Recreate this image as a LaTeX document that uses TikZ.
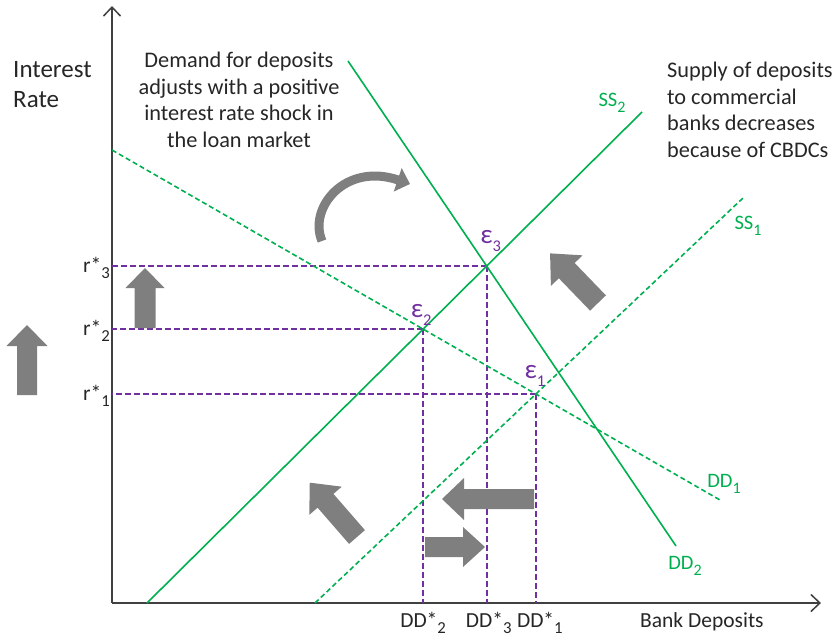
\documentclass[tikz,border=0pt]{standalone}
\usepackage{fontspec}
\setmainfont{Carlito}
\usetikzlibrary{arrows.meta,intersections,calc}

\definecolor{curvegreen}{HTML}{00B050}
\definecolor{eqpurple}{HTML}{7030A0}
\definecolor{axisgray}{HTML}{404040}
\definecolor{shiftgray}{HTML}{7F7F7F}
\definecolor{txt}{HTML}{262626}

% lowered index, a little larger than \textsubscript
\newcommand\lowidx[1]{\lower0.28em\hbox{\scalebox{0.78}{#1}}}

% block arrow: tail point, direction, length, shaft half width, head half width, head length
\newcommand\blockarrow[6]{%
  \fill[shiftfill, shift={(#1)}, rotate=#2]
    (0,-#4) -- ({#3-#6},-#4) -- ({#3-#6},-#5) -- (#3,0) -- ({#3-#6},#5) -- ({#3-#6},#4) -- (0,#4) -- cycle;}

\begin{document}
\begin{tikzpicture}[x=1pt,y=-1pt,
  axisline/.style={draw=axisgray,line width=1.8pt,-{Straight Barb[length=9pt,width=17pt,line width=1.5pt]}},
  curve/.style={draw=curvegreen,line width=1.6pt},
  dcurve/.style={curve,dash pattern=on 5pt off 3pt},
  guide/.style={draw=eqpurple,line width=1.7pt,dash pattern=on 6pt off 3pt},
  curvelbl/.style={text=curvegreen,font=\fontsize{20.5}{22}\selectfont},
  eqlbl/.style={text=eqpurple,font=\fontsize{27}{28}\selectfont},
  ticklbl/.style={text=txt,font=\fontsize{21.5}{24}\selectfont,inner sep=1pt},
  note/.style={text=txt,font=\fontsize{22.3}{26.5}\selectfont,inner sep=0pt},
  shiftfill/.style={fill=shiftgray}]

\path[use as bounding box] (0,0) rectangle (835,640);

% axes
\coordinate (O) at (112,603);
\coordinate (ytop) at (112,6);
\coordinate (xend) at (821,603);
\draw[axisline] (O) -- (ytop);
\draw[axisline] (O) -- (xend);

\node[note,font=\fontsize{25}{30.5}\selectfont,align=left,anchor=north west] (ylabel) at (13,61) {Interest\\Rate};
\node[ticklbl,anchor=north west] (xlabel) at (639,611) {Bank Deposits};

% demand and supply curves
\path[name path=dd1] (112,150) coordinate (dd1a) -- (720,500) coordinate (dd1b);
\path[name path=dd2] (348,61) coordinate (dd2a) -- (676,546) coordinate (dd2b);
\path[name path=ss2] (147,603) coordinate (ss2a) -- (642,112) coordinate (ss2b);
\path[name path=ss1] (315,603) coordinate (ss1a) -- (743,198) coordinate (ss1b);

\path[name intersections={of=dd1 and ss1,by=E1}];
\path[name intersections={of=dd1 and ss2,by=E2}];
\path[name intersections={of=dd2 and ss2,by=E3}];

% equilibrium guides
\draw[guide] (E3) -- (E3 -| O);
\draw[guide] (E2) -- (E2 -| O);
\draw[guide] (E1) -- (E1 -| O);
\draw[guide] (E3) -- (E3 |- O);
\draw[guide] (E2) -- (E2 |- O);
\draw[guide] (E1) -- (E1 |- O);

\draw[dcurve] (dd1a) -- (dd1b);
\draw[curve] (dd2a) -- (dd2b);
\draw[curve] (ss2a) -- (ss2b);
\draw[dcurve] (ss1a) -- (ss1b);

\node[curvelbl] (dd1lbl) at (724,484) {DD\lowidx{1}};
\node[curvelbl] (dd2lbl) at (685,566) {DD\lowidx{2}};
\node[curvelbl] (ss2lbl) at (612,103) {SS\lowidx{2}};
\node[curvelbl] (ss1lbl) at (748,226) {SS\lowidx{1}};

\node[eqlbl] (e3lbl) at ($(E3)+(4,-25)$) {ε\lowidx{\fontsize{21}{22}\selectfont 3}};
\node[eqlbl] (e2lbl) at ($(E2)+(-2,-14)$) {ε\lowidx{\fontsize{21}{22}\selectfont 2}};
\node[eqlbl] (e1lbl) at ($(E1)+(-1,-18)$) {ε\lowidx{\fontsize{21}{22}\selectfont 1}};

% rate and quantity labels
\node[ticklbl,anchor=east] (r3) at ($(E3 -| O)+(-1,2)$) {r*\lowidx{3}};
\node[ticklbl,anchor=east] (r2) at ($(E2 -| O)+(-1,2)$) {r*\lowidx{2}};
\node[ticklbl,anchor=east] (r1) at ($(E1 -| O)+(-1,2)$) {r*\lowidx{1}};
\node[ticklbl,anchor=north] (q2) at ($(E2 |- O)+(0,8)$) {DD*\lowidx{2}};
\node[ticklbl,anchor=north] (q3) at ($(E3 |- O)+(2,8)$) {DD*\lowidx{3}};
\node[ticklbl,anchor=north] (q1) at ($(E1 |- O)+(4,8)$) {DD*\lowidx{1}};

% annotations
\node[note,align=center] (demandnote) at (239,100)
  {Demand for deposits\\adjusts with a positive\\interest rate shock in\\the loan market};
\node[note,align=left,anchor=north west] (supplynote) at (667,62)
  {Supply of deposits\\to commercial\\banks decreases\\because of CBDCs};

% shift arrows
\blockarrow{27,395}{90}{70}{10}{20.5}{21}
\blockarrow{145,328}{90}{60}{10.5}{19.5}{20}
\blockarrow{598,303}{134}{69}{11}{22}{24}
\blockarrow{357,537}{131}{72}{10.5}{21.5}{24}
\blockarrow{534,499}{180}{92}{10}{21}{22}
\blockarrow{425,547}{0}{60}{10}{20}{22}

\coordinate (bendstart) at (322,241);
\coordinate (bendend) at (410,184);
\draw[draw=shiftgray,line width=9pt,-{Triangle[length=13pt,width=24pt]}]
  (bendstart) .. controls (308,208) and (345,162) .. (bendend);
\end{tikzpicture}
\end{document}
